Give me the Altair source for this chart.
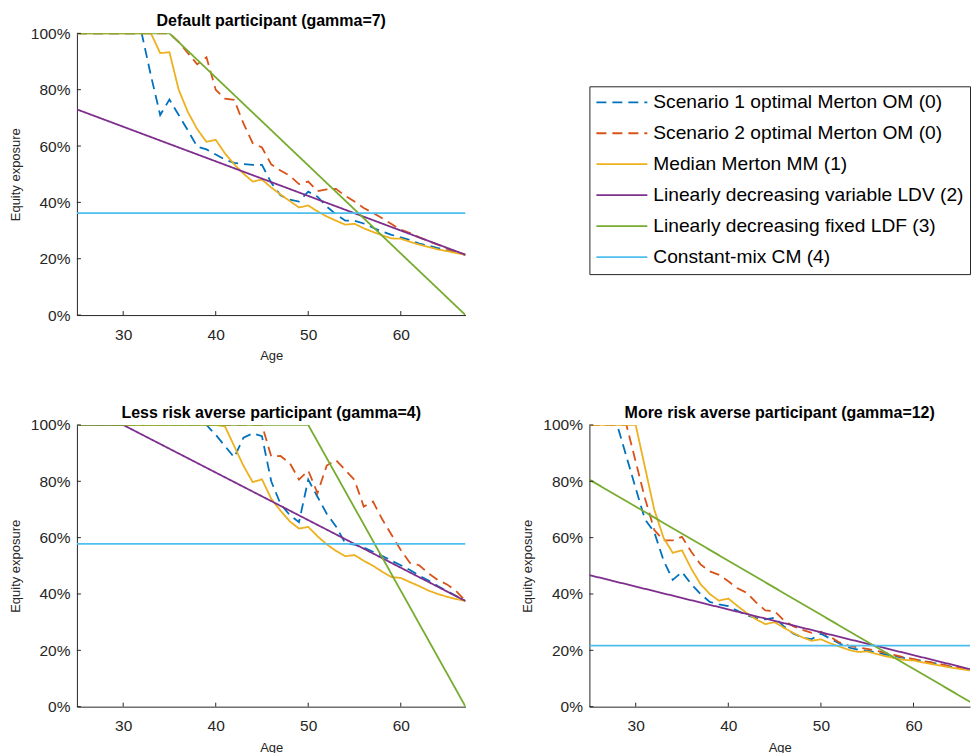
import altair as alt
import pandas as pd

# Age grid used by the simulated strategies
AGES = list(range(25, 68))

SERIES = [
    "Scenario 1 optimal Merton OM (0)",
    "Scenario 2 optimal Merton OM (0)",
    "Median Merton MM (1)",
    "Linearly decreasing variable LDV (2)",
    "Linearly decreasing fixed LDF (3)",
    "Constant-mix CM (4)",
]
COLORS = ["#0072BD", "#D95319", "#EDB120", "#7E2F8E", "#77AC30", "#4DBEEE"]
DASHES = [[10, 6], [10, 6], [1, 0], [1, 0], [1, 0], [1, 0]]

XTICKS = [30, 40, 50, 60]
YTICKS = [0, 20, 40, 60, 80, 100]

# ---- Default participant (gamma=7) ----
G7_S1 = [100, 100, 100, 100, 100, 100, 100, 100, 85, 71, 76.5, 71, 65.5, 59.8, 58.8,
         57, 55.2, 54, 53.6, 53.3, 53.3, 47, 42.5, 41, 40.3, 43.8, 42, 38.5, 35.8,
         33.5, 33.5, 32.5, 31, 29.6, 28.5, 27.6, 26.6, 25.4, 24.6, 23.8, 23, 22.2, 21.4]
G7_S2 = [100, 100, 100, 100, 100, 100, 100, 100, 100, 100, 100, 97, 93, 89, 91.5,
         80, 76.8, 76.4, 68, 61, 59.5, 53.5, 51.3, 49.5, 46.5, 47.4, 44, 44.6, 44.8,
         42.3, 40.3, 38, 36.3, 34.4, 32.3, 30.3, 29.1, 27.6, 26.2, 25, 23.6, 22.5, 21.4]
G7_MM = [100, 100, 100, 100, 100, 100, 100, 100, 100, 93, 93.3, 80, 72, 66, 61.5,
         62.2, 57.4, 53.5, 50.2, 47.4, 48.1, 45.3, 42.8, 40.5, 38.2, 38.9, 36.8, 35,
         33.5, 32.1, 32.4, 30.8, 29.5, 28.3, 27.2, 27.1, 26, 25, 24.2, 23.3, 22.7, 22, 21.4]
G7_LDV_AGES, G7_LDV = [25, 67], [73.0, 21.4]
G7_LDF_AGES, G7_LDF = [25, 35, 67], [100, 100, 0]
G7_CM = 36.2

# ---- Less risk averse participant (gamma=4) ----
G4_S1 = [100, 100, 100, 100, 100, 100, 100, 100, 100, 100, 100, 100, 100, 100, 100,
         96.5, 92.5, 88.5, 95.5, 97, 96, 80, 72, 68, 65.5, 80.6, 74.5, 68.5, 64, 58,
         57.5, 56.5, 55, 53.5, 51.8, 50.2, 48.5, 46.5, 44.8, 42.8, 41, 39.3, 37.5]
G4_S2 = [100, 100, 100, 100, 100, 100, 100, 100, 100, 100, 100, 100, 100, 100, 100,
         100, 100, 100, 100, 100, 100, 88.8, 89, 86.5, 80.6, 83.8, 75.8, 85.6, 87.5,
         84, 80.5, 71, 72.8, 66.5, 61, 55.6, 51, 50.2, 47.3, 45, 43.4, 41, 37.5]
G4_MM = [100, 100, 100, 100, 100, 100, 100, 100, 100, 100, 100, 100, 100, 100, 100,
         100, 99.5, 92.5, 85.5, 79.7, 80.7, 73.8, 69.6, 65.8, 63.2, 63.8, 60.5, 57.6,
         55.3, 53.4, 53.8, 51.8, 50, 47.9, 46, 45.7, 44.2, 42.8, 41.2, 40, 39, 38.2, 37.5]
G4_LDV_AGES, G4_LDV = [25, 30, 67], [100, 100, 37.5]
G4_LDF_AGES, G4_LDF = [25, 50, 67], [100, 100, 0]
G4_CM = 57.8

# ---- More risk averse participant (gamma=12) ----
G12_S1 = [100, 100, 100, 100, 88.8, 77.5, 66.5, 62, 52, 45, 47.8, 43.5, 40, 37.2,
          36.3, 35.7, 34, 32.4, 31.5, 31, 31.6, 28.5, 26, 24.5, 24, 25.9, 24.2, 22.4,
          21, 20.2, 19.9, 19.2, 18.5, 17.9, 17.3, 16.8, 16.2, 15.6, 15, 14.2, 13.7, 13.2, 12.6]
G12_S2 = [100, 100, 100, 100, 100, 87, 74, 62.8, 59, 59, 60.3, 55, 50.5, 48, 46.8,
          44.5, 42, 40.4, 37, 34.2, 33.9, 30.6, 28.6, 27.3, 26.2, 26.6, 24.8, 22.8,
          21.7, 21, 20.5, 19.8, 19.1, 18.3, 17.5, 16.9, 16.2, 15.6, 15, 14.3, 13.8, 13.2, 12.6]
G12_MM = [100, 100, 100, 100, 100, 100, 85, 70, 60, 54.6, 55.5, 49, 43.5, 40, 37.6,
          38.4, 35.7, 33.2, 31, 29.3, 30, 28, 26.2, 24.6, 23.4, 23.9, 22.5, 21.3, 20.2,
          19.4, 19.6, 18.7, 17.9, 17.2, 16.6, 16.4, 15.7, 15.1, 14.5, 13.9, 13.4, 12.9, 12.5]
G12_LDV_AGES, G12_LDV = [25, 67], [46.7, 12.6]
G12_LDF_AGES, G12_LDF = [25, 67], [80.6, 0]
G12_CM = 21.7

TITLES = [
    "Default participant (gamma=7)",
    "Less risk averse participant (gamma=4)",
    "More risk averse participant (gamma=12)",
]

FONT = "Liberation Sans"
INK = "#262626"
PLOT_H = 282
FULL_W = 389
CLIPPED_W = 381
AGE_MAX_CLIPPED = 66.1
LINE_W = 1.8


def strategy_frame(s1, s2, mm, ldv_ages, ldv, ldf_ages, ldf, cm):
    parts = [
        (SERIES[0], AGES, s1),
        (SERIES[1], AGES, s2),
        (SERIES[2], AGES, mm),
        (SERIES[3], ldv_ages, ldv),
        (SERIES[4], ldf_ages, ldf),
        (SERIES[5], [25, 67], [cm, cm]),
    ]
    rows = []
    for name, ages, vals in parts:
        rows += [{"series": name, "age": a, "pct": v} for a, v in zip(ages, vals)]
    return pd.DataFrame(rows)


color_scale = alt.Scale(domain=SERIES, range=COLORS)
dash_scale = alt.Scale(domain=SERIES, range=DASHES)


def panel(df, title, width, age_max):
    x = alt.X(
        "age:Q",
        scale=alt.Scale(domain=[25, age_max], nice=False, zero=False),
        axis=alt.Axis(values=XTICKS, title="Age", format="d"),
    )
    y = alt.Y(
        "pct:Q",
        scale=alt.Scale(domain=[0, 100], nice=False),
        axis=alt.Axis(values=YTICKS, labelExpr="datum.value + '%'", title="Equity exposure"),
    )
    lines = alt.Chart(df).mark_line(clip=True, strokeWidth=LINE_W).encode(
        x=x,
        y=y,
        color=alt.Color("series:N", scale=color_scale, legend=None),
        strokeDash=alt.StrokeDash("series:N", scale=dash_scale, legend=None),
    )
    # inward tick marks on both axes
    xt = alt.Chart(pd.DataFrame({"age": XTICKS})).mark_rule(color=INK, strokeWidth=1).encode(
        x=x, y=alt.value(PLOT_H), y2=alt.value(PLOT_H - 4)
    )
    yt = alt.Chart(pd.DataFrame({"pct": YTICKS})).mark_rule(color=INK, strokeWidth=1).encode(
        y=y, x=alt.value(0), x2=alt.value(4)
    )
    return alt.layer(lines, xt, yt).properties(
        width=width,
        height=PLOT_H,
        title=alt.TitleParams(title, fontSize=16, fontWeight="bold", font=FONT,
                              color="black", anchor="middle", frame="group", offset=-3),
    )


df7 = strategy_frame(G7_S1, G7_S2, G7_MM, G7_LDV_AGES, G7_LDV, G7_LDF_AGES, G7_LDF, G7_CM)
df4 = strategy_frame(G4_S1, G4_S2, G4_MM, G4_LDV_AGES, G4_LDV, G4_LDF_AGES, G4_LDF, G4_CM)
df12 = strategy_frame(G12_S1, G12_S2, G12_MM, G12_LDV_AGES, G12_LDV, G12_LDF_AGES, G12_LDF, G12_CM)

top_left = panel(df7, TITLES[0], FULL_W, 67)
bottom_left = panel(df4, TITLES[1], FULL_W, 67)
bottom_right = panel(df12, TITLES[2], CLIPPED_W, AGE_MAX_CLIPPED)

legend_spec = dict(
    title=None,
    orient="none",
    legendX=0,
    legendY=53,
    symbolType="stroke",
    symbolSize=2601,
    symbolStrokeWidth=LINE_W,
    symbolOpacity=1,
    labelFont=FONT,
    labelFontSize=19.2,
    labelColor="black",
    labelLimit=400,
    labelOffset=5,
    clipHeight=20,
    rowPadding=10,
    padding=6,
    strokeColor=INK,
    fillColor="white",
    cornerRadius=0,
)

legend_cell = alt.Chart(df7).mark_line(opacity=0).encode(
    x=alt.X("age:Q", axis=None),
    y=alt.Y("pct:Q", axis=None),
    color=alt.Color("series:N", scale=color_scale, legend=alt.Legend(**legend_spec)),
    strokeDash=alt.StrokeDash("series:N", scale=dash_scale, legend=alt.Legend(**legend_spec)),
).properties(width=CLIPPED_W, height=PLOT_H)

chart = (
    alt.concat(top_left, legend_cell, bottom_left, bottom_right, columns=2,
               spacing={"row": 110, "column": 124}, bounds="flush")
    .resolve_scale(color="independent", strokeDash="independent")
    .resolve_legend(color="independent", strokeDash="independent")
    .properties(padding={"left": 9, "top": 13, "right": 0, "bottom": 0}, background="white")
    .configure_view(stroke=None)
    .configure_axis(
        grid=False,
        ticks=False,
        domainColor=INK,
        domainWidth=1,
        labelFont=FONT,
        labelFontSize=15.5,
        labelColor=INK,
        titleFont=FONT,
        titleFontSize=13,
        titleFontWeight="normal",
        titleColor=INK,
    )
    .configure_axisX(labelPadding=12, titlePadding=7)
    .configure_axisY(labelPadding=7, titlePadding=8)
)

chart.save("out.html", embed_options={"renderer": "svg", "actions": False})
